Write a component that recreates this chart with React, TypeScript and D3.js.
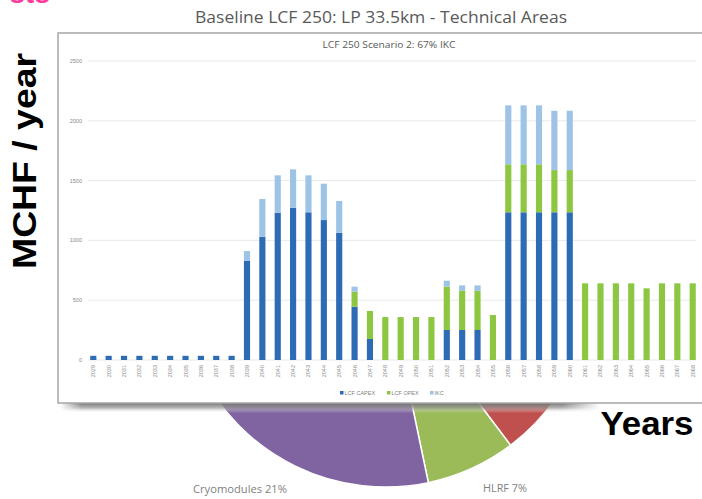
import React from "react";
import * as d3 from "d3";

const years = ["2029","2030","2031","2032","2033","2034","2035","2036","2037","2038","2039","2040","2041","2042","2043","2044","2045","2046","2047","2048","2049","2050","2051","2052","2053","2054","2055","2056","2057","2058","2059","2060","2061","2062","2063","2064","2065","2066","2067","2068"];
const capex = [35,35,35,35,35,35,35,35,35,35,828,1031,1231,1273,1235,1170,1064,446,176,0,0,0,0,251,251,251,0,1235,1235,1235,1235,1235,0,0,0,0,0,0,0,0];
const opex = [0,0,0,0,0,0,0,0,0,0,0,0,0,0,0,0,0,125,234,359,359,359,359,362,328,328,376,401,401,401,353,353,641,641,641,641,599,641,641,641];
const ikc = [0,0,0,0,0,0,0,0,0,0,83,315,313,321,309,304,265,42,0,0,0,0,0,50,45,45,0,493,493,493,496,496,0,0,0,0,0,0,0,0];
const seriesNames = ["LCF CAPEX", "LCF OPEX", "IKC"];
const seriesColors = ["#2e6bb5", "#8dc641", "#9dc3e6"];
const yTicks = [0, 500, 1000, 1500, 2000, 2500];

const pieNames = ["", "HLRF", "Cryomodules"];
const pieValues = [5, 7, 21];
const pieColors = ["#c0504d", "#9bbb59", "#8064a2"];

const W = 702, H = 499;

export default function App() {
  const x = d3.scaleBand<string>().domain(years).range([81, 705]).paddingInner(0.6).paddingOuter(0.6);
  const y = d3.scaleLinear().domain([0, 2500]).range([360, 61]);

  const rows = years.map((yr, i) => ({ year: yr, c: capex[i], o: opex[i], k: ikc[i] }));
  const stack = d3.stack<any>().keys(["c", "o", "k"])(rows);

  const deg = Math.PI / 180;
  const total = d3.sum(pieValues);
  const pie = d3.pie<number>().sort(null).startAngle(125 * deg).endAngle((125 + total * 3.6) * deg)(pieValues);
  const arc = d3.arc<any>().innerRadius(0).outerRadius(207);
  const pcx = 386, pcy = 280;

  const legendX = [340, 387, 430];

  return (
    <svg width={W} height={H} style={{ position: "absolute", left: 0, top: 0, background: "#fff" }}>
      <defs>
        <linearGradient id="shadow" x1="0" y1="0" x2="0" y2="1">
          <stop offset="0" stopColor="#6e6e6e" stopOpacity="0.95" />
          <stop offset="0.5" stopColor="#999" stopOpacity="0.7" />
          <stop offset="1" stopColor="#ffffff" stopOpacity="0" />
        </linearGradient>
        <linearGradient id="shadowH" x1="0" y1="0" x2="1" y2="0">
          <stop offset="0" stopColor="#fff" stopOpacity="1" />
          <stop offset="0.04" stopColor="#fff" stopOpacity="0" />
          <stop offset="0.93" stopColor="#fff" stopOpacity="0" />
          <stop offset="1" stopColor="#fff" stopOpacity="1" />
        </linearGradient>
      </defs>

      {/* pink heading fragment */}
      <text x={50} y={3} textAnchor="end" fontFamily="Liberation Sans, Arial, sans-serif" fontWeight="bold" fontSize={28} fill="#ff3c9e">sts</text>

      {/* slide title */}
      <text x={381} y={23} textAnchor="middle" fontFamily="Open Sans, sans-serif" fontSize={16} fill="#595959" textLength={372} lengthAdjust="spacingAndGlyphs">Baseline LCF 250: LP 33.5km - Technical Areas</text>

      {/* pie behind */}
      <g transform={`translate(${pcx},${pcy})`}>
        {pie.map((p, i) => (
          <path key={i} d={arc(p) as string} fill={pieColors[i]} stroke="#fff" strokeWidth={1.5} />
        ))}
      </g>
      <text x={193} y={493} textAnchor="start" fontFamily="Open Sans, sans-serif" fontSize={10.5} fill="#7f7f7f" textLength={94} lengthAdjust="spacingAndGlyphs">{pieNames[2]} {pieValues[2]}%</text>
      <text x={483} y={492} textAnchor="start" fontFamily="Open Sans, sans-serif" fontSize={10.5} fill="#7f7f7f" textLength={44} lengthAdjust="spacingAndGlyphs">{pieNames[1]} {pieValues[1]}%</text>

      {/* shadow under chart box */}
      <rect x={60} y={403} width={540} height={10} fill="url(#shadow)" />
      <rect x={60} y={403} width={540} height={10} fill="url(#shadowH)" />

      {/* chart box */}
      <rect x={58} y={33} width={680} height={370} fill="#fff" stroke="#a6a6a6" strokeWidth={1.5} />

      <text x={389} y={48} textAnchor="middle" fontFamily="Open Sans, sans-serif" fontSize={9} fill="#595959" textLength={133} lengthAdjust="spacingAndGlyphs">LCF 250 Scenario 2: 67% IKC</text>

      {/* gridlines + y ticks */}
      {yTicks.map((t) => (
        <g key={t}>
          <line x1={88} x2={696} y1={y(t)} y2={y(t)} stroke="#e3e3e3" strokeWidth={0.8} />
          <text x={82} y={y(t) + 2} textAnchor="end" fontFamily="Liberation Sans, Arial, sans-serif" fontSize={5.5} fill="#8a8a8a">{t}</text>
        </g>
      ))}

      {/* bars */}
      {stack.map((s, si) => (
        <g key={si} fill={seriesColors[si]}>
          {s.map((d: any, i: number) =>
            d[1] - d[0] > 0 ? (
              <rect key={i} x={x(d.data.year)} width={x.bandwidth()} y={y(d[1])} height={y(d[0]) - y(d[1])} />
            ) : null
          )}
        </g>
      ))}

      {/* x labels */}
      {years.map((yr) => (
        <text key={yr} transform={`translate(${(x(yr) as number) + x.bandwidth() / 2 + 2},${365}) rotate(-90)`} textAnchor="end" fontFamily="Liberation Sans, Arial, sans-serif" fontSize={5.5} fill="#8a8a8a">{yr}</text>
      ))}

      {/* legend */}
      {seriesNames.map((n, i) => (
        <g key={n}>
          <rect x={legendX[i]} y={391} width={3.5} height={3.5} fill={seriesColors[i]} />
          <text x={legendX[i] + 4.5} y={395} fontFamily="Liberation Sans, Arial, sans-serif" fontSize={5.5} fill="#7f7f7f">{n}</text>
        </g>
      ))}

      {/* big axis labels */}
      <text transform="translate(36,161) rotate(-90)" textAnchor="middle" fontFamily="Liberation Sans, Arial, sans-serif" fontWeight="bold" fontSize={34} fill="#000" textLength={216} lengthAdjust="spacingAndGlyphs">MCHF / year</text>
      <text x={647} y={435} textAnchor="middle" fontFamily="Liberation Sans, Arial, sans-serif" fontWeight="bold" fontSize={34} fill="#000" textLength={93} lengthAdjust="spacingAndGlyphs">Years</text>
    </svg>
  );
}
